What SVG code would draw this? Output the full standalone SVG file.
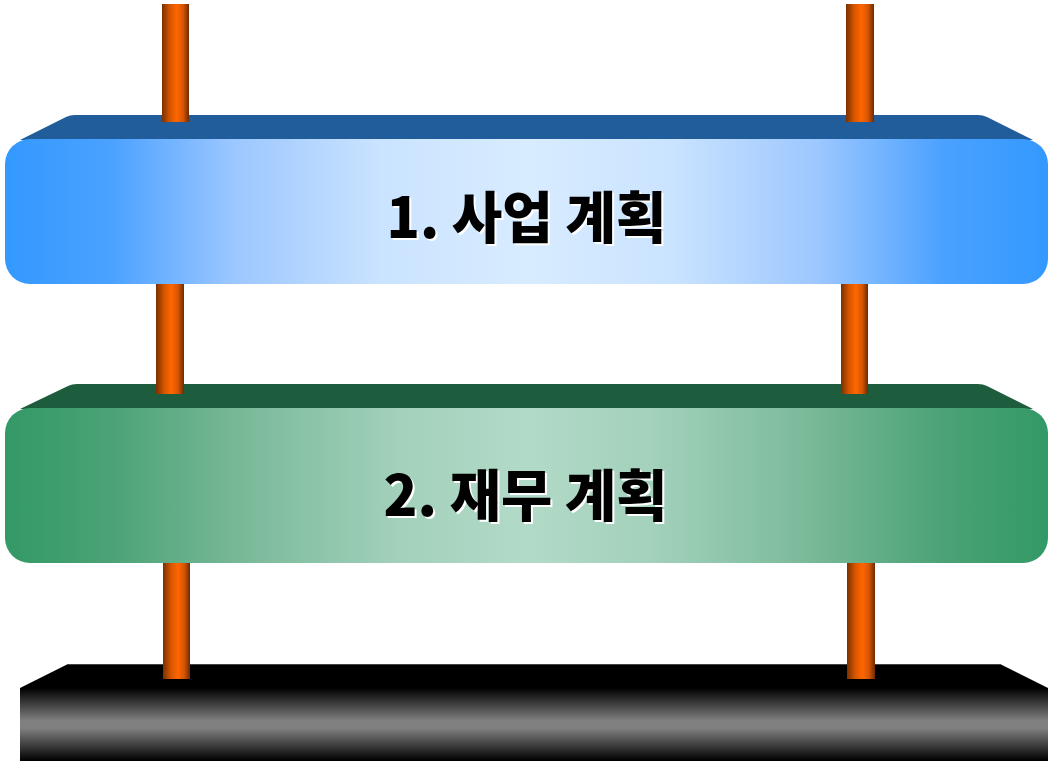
<svg xmlns="http://www.w3.org/2000/svg" width="1049" height="763" viewBox="0 0 1049 763">
<defs>
<linearGradient id="gBlue" x1="0" y1="0" x2="1" y2="0">
<stop offset="0" stop-color="#3399FF"/><stop offset="0.1" stop-color="#4AA1FF"/><stop offset="0.22" stop-color="#9CC7FF"/><stop offset="0.36" stop-color="#CAE3FF"/><stop offset="0.5" stop-color="#D8ECFF"/><stop offset="0.64" stop-color="#CAE3FF"/><stop offset="0.78" stop-color="#9CC7FF"/><stop offset="0.9" stop-color="#4AA1FF"/><stop offset="1" stop-color="#3399FF"/>
</linearGradient>
<linearGradient id="gGreen" x1="0" y1="0" x2="1" y2="0">
<stop offset="0" stop-color="#339966"/><stop offset="0.1" stop-color="#4BA276"/><stop offset="0.24" stop-color="#7DBB9C"/><stop offset="0.38" stop-color="#A3D1BB"/><stop offset="0.5" stop-color="#B2DAC8"/><stop offset="0.62" stop-color="#A3D1BB"/><stop offset="0.76" stop-color="#7DBB9C"/><stop offset="0.9" stop-color="#4BA276"/><stop offset="1" stop-color="#339966"/>
</linearGradient>
<linearGradient id="gBase" x1="0" y1="0" x2="0" y2="1">
<stop offset="0" stop-color="#000000"/><stop offset="0.45" stop-color="#808080"/><stop offset="0.55" stop-color="#808080"/><stop offset="1" stop-color="#000000"/>
</linearGradient>
<linearGradient id="gPole" x1="0" y1="0" x2="1" y2="0">
<stop offset="0" stop-color="#7A3000"/><stop offset="0.3" stop-color="#D85600"/><stop offset="0.55" stop-color="#FF6600"/><stop offset="0.78" stop-color="#D85600"/><stop offset="1" stop-color="#6E2A00"/>
</linearGradient>
<style>
.pole{fill:url(#gPole)}
.lbl{font-family:"Noto Sans CJK KR","Liberation Sans",sans-serif;font-weight:900;font-size:56px;text-anchor:middle}
.sh{fill:#FFFFFF}
.fg{fill:#000000}
</style>
</defs>
<g id="slab1">
<path d="M20,140 L66,117 Q70,115 75,115 L978,115 Q983,115 987,117 L1033,140 Z" fill="#215D9A"/>
<rect x="5" y="139" width="1043" height="145" rx="25" ry="25" fill="url(#gBlue)"/>
<text class="lbl sh" x="528.5" y="240" textLength="280" lengthAdjust="spacingAndGlyphs">1. 사업 계획</text>
<text class="lbl fg" x="526.5" y="238" textLength="280" lengthAdjust="spacingAndGlyphs">1. 사업 계획</text>
</g>
<g id="slab2">
<path d="M20,409 L68,386 Q72,384 77,384 L978,384 Q983,384 987,386 L1033,409 Z" fill="#1E5C3E"/>
<rect x="5" y="408" width="1043" height="155" rx="25" ry="25" fill="url(#gGreen)"/>
<text class="lbl sh" x="527.5" y="518" textLength="284" lengthAdjust="spacingAndGlyphs">2. 재무 계획</text>
<text class="lbl fg" x="525.5" y="516" textLength="284" lengthAdjust="spacingAndGlyphs">2. 재무 계획</text>
</g>
<g id="base">
<path d="M20,688 L68,664 L1000,664 L1048,688 Z" fill="#000000"/>
<line x1="68" y1="664.5" x2="1000" y2="664.5" stroke="#444444" stroke-width="1"/>
<rect x="20" y="688" width="1028" height="73" fill="url(#gBase)"/>
</g>
<g id="connectors">
<rect class="pole" x="162" y="4" width="27" height="118"/>
<rect class="pole" x="846" y="4" width="28" height="118"/>
<rect class="pole" x="156" y="284" width="28" height="110"/>
<rect class="pole" x="841" y="284" width="27" height="110"/>
<rect class="pole" x="163" y="563" width="27" height="116"/>
<rect class="pole" x="847" y="563" width="28" height="116"/>
</g>
</svg>
